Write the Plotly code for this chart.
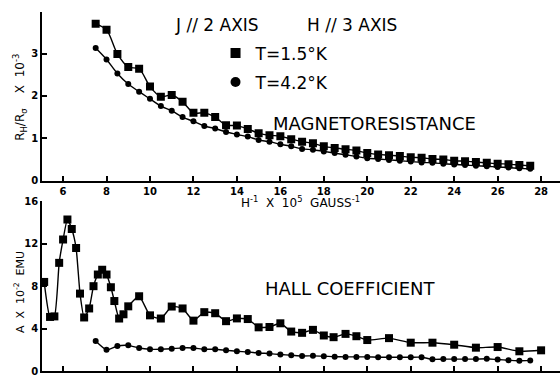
import plotly.graph_objects as go

# ---------------- data ----------------
# Magnetoresistance (top panel): x = H^-1 x 10^5 gauss^-1
mr_x = [7.5 + 0.5 * i for i in range(41)]
mr_15K = [3.70, 3.56, 2.99, 2.68, 2.64, 2.22, 1.98, 2.02, 1.86, 1.60,
          1.60, 1.50, 1.31, 1.30, 1.22, 1.12, 1.07, 1.05, 0.98, 0.92,
          0.88, 0.81, 0.77, 0.74, 0.71, 0.65, 0.62, 0.60, 0.58, 0.55,
          0.54, 0.51, 0.50, 0.47, 0.46, 0.44, 0.42, 0.40, 0.39, 0.37, 0.35]
mr_42K = [3.13, 2.86, 2.53, 2.28, 2.10, 1.93, 1.76, 1.65, 1.50, 1.40,
          1.29, 1.23, 1.15, 1.09, 1.04, 0.96, 0.92, 0.86, 0.81, 0.75,
          0.73, 0.69, 0.65, 0.61, 0.57, 0.53, 0.51, 0.49, 0.47, 0.45,
          0.43, 0.42, 0.40, 0.38, 0.37, 0.35, 0.34, 0.32, 0.31, 0.29, 0.28]

# Hall coefficient (bottom panel)
hall_x_15K = [5.13, 5.4, 5.6, 5.82, 6.0, 6.2, 6.4, 6.6, 6.78, 6.97,
              7.2, 7.4, 7.6, 7.8, 8.0, 8.2, 8.36, 8.58, 8.78, 9.0,
              9.5, 10.0, 10.5, 11.0, 11.5, 12.0, 12.5, 13.0, 13.5, 14.0,
              14.5, 15.0, 15.5, 16.0, 16.5, 17.0, 17.5, 18.0, 18.45, 19.0,
              19.5, 20.0, 21.0, 22.0, 23.0, 24.0, 25.0, 26.0, 27.0, 28.0]
hall_15K = [8.4, 5.1, 5.15, 10.2, 12.4, 14.3, 13.4, 11.6, 7.3, 5.05,
            5.9, 8.0, 9.1, 9.55, 9.1, 7.9, 6.6, 4.95, 5.35, 6.1,
            7.05, 5.25, 4.95, 6.08, 5.9, 4.75, 5.55, 5.45, 4.7, 4.96,
            4.9, 4.12, 4.15, 4.5, 3.72, 3.6, 3.88, 3.35, 3.19, 3.5,
            3.28, 2.92, 3.1, 2.67, 2.67, 2.48, 2.2, 2.26, 1.86, 1.95]
hall_x_42K = [7.5 + 0.5 * i for i in range(41)]
hall_42K = [2.82, 2.0, 2.36, 2.42, 2.17, 2.05, 2.05, 2.1, 2.18, 2.17,
            2.05, 2.05, 1.95, 1.86, 1.8, 1.7, 1.64, 1.55, 1.49, 1.42,
            1.43, 1.4, 1.35, 1.33, 1.33, 1.33, 1.3, 1.3, 1.3, 1.3,
            1.3, 1.1, 1.12, 1.12, 1.12, 1.12, 1.15, 1.08, 1.02, 0.96, 1.0]

x_ticks = [6, 8, 10, 12, 14, 16, 18, 20, 22, 24, 26, 28]
mr_ticks = [0, 1, 2, 3]
hall_ticks = [0, 4, 8, 12, 16]

label_15K = "T=1.5°K"
label_42K = "T=4.2°K"

# ---------------- figure ----------------
FONT = "DejaVu Sans"
fig = go.Figure()

line = dict(color="black", width=1.4)

fig.add_trace(go.Scatter(x=mr_x, y=mr_15K, mode="lines+markers", xaxis="x2", yaxis="y2",
                         line=dict(**line, shape="spline", smoothing=0.8),
                         marker=dict(symbol="square", size=8, color="black"), showlegend=False))
fig.add_trace(go.Scatter(x=mr_x, y=mr_42K, mode="lines+markers", xaxis="x2", yaxis="y2",
                         line=dict(**line, shape="spline", smoothing=1.0),
                         marker=dict(symbol="circle", size=6, color="black"), showlegend=False))
fig.add_trace(go.Scatter(x=hall_x_15K, y=hall_15K, mode="lines+markers", xaxis="x", yaxis="y",
                         line=dict(**line, shape="spline", smoothing=0.5),
                         marker=dict(symbol="square", size=8, color="black"), showlegend=False))
fig.add_trace(go.Scatter(x=hall_x_42K, y=hall_42K, mode="lines+markers", xaxis="x", yaxis="y",
                         line=dict(**line, shape="spline", smoothing=0.6),
                         marker=dict(symbol="circle", size=6, color="black"), showlegend=False))

# legend-only entries (marker only, like the reference key)
fig.add_trace(go.Scatter(x=[None], y=[None], mode="markers", name=label_15K, legendgroup="a",
                         marker=dict(symbol="square", size=10, color="black")))
fig.add_trace(go.Scatter(x=[None], y=[None], mode="markers", name=label_42K, legendgroup="b",
                         marker=dict(symbol="circle", size=10, color="black")))

xr = [5.03, 28.87]
axis_common = dict(showline=True, linecolor="black", linewidth=1.8, ticks="inside",
                   ticklen=5, tickcolor="black", tickwidth=1.5, showgrid=False, zeroline=False,
                   tickfont=dict(family=FONT, size=10, color="black", weight="bold"))

fig.update_layout(
    width=560, height=377,
    margin=dict(l=42, r=0, t=12, b=1),
    paper_bgcolor="white", plot_bgcolor="white",
    font=dict(family=FONT, color="black"),
    xaxis=dict(**axis_common, range=xr, tickvals=x_ticks, showticklabels=False, anchor="y"),
    yaxis=dict(**axis_common, range=[0, 16], tickvals=hall_ticks, domain=[0, 0.4725], anchor="x"),
    xaxis2=dict(**axis_common, range=xr, tickvals=x_ticks, anchor="y2", matches="x"),
    yaxis2=dict(**axis_common, range=[0, 3.98], tickvals=mr_ticks, domain=[0.5302, 1], anchor="x2"),
    legend=dict(x=0.335, y=0.935, xanchor="left", yanchor="top", bgcolor="rgba(0,0,0,0)",
                font=dict(family=FONT, size=17, color="black"), traceorder="grouped",
                tracegroupgap=4, itemwidth=30),
    showlegend=True,
)


def px_x(px):
    return (px - 42) / 518


def px_y(py):
    return (376 - py) / 364


def label(text, cx, cy, size, angle=0):
    fig.add_annotation(text=text, xref="paper", yref="paper", x=px_x(cx), y=px_y(cy),
                       xanchor="center", yanchor="middle", showarrow=False, textangle=angle,
                       font=dict(family=FONT, size=size, color="black"))


label("J // 2 AXIS", 217, 25, 17)
label("H // 3 AXIS", 352, 25, 17)
label("MAGNETORESISTANCE", 374, 125, 18)
label("HALL COEFFICIENT", 350, 292, 18)
label("H<sup>-1</sup>  X  10<sup>5</sup>  GAUSS<sup>-1</sup>", 300, 205, 12)
label("R<sub>H</sub>/R<sub>σ</sub>    X  10<sup>-3</sup>", 20, 99, 12, -90)
label("A  X  10<sup>-2</sup>  EMU", 19, 296, 11, -90)

fig.write_html("out.html")
